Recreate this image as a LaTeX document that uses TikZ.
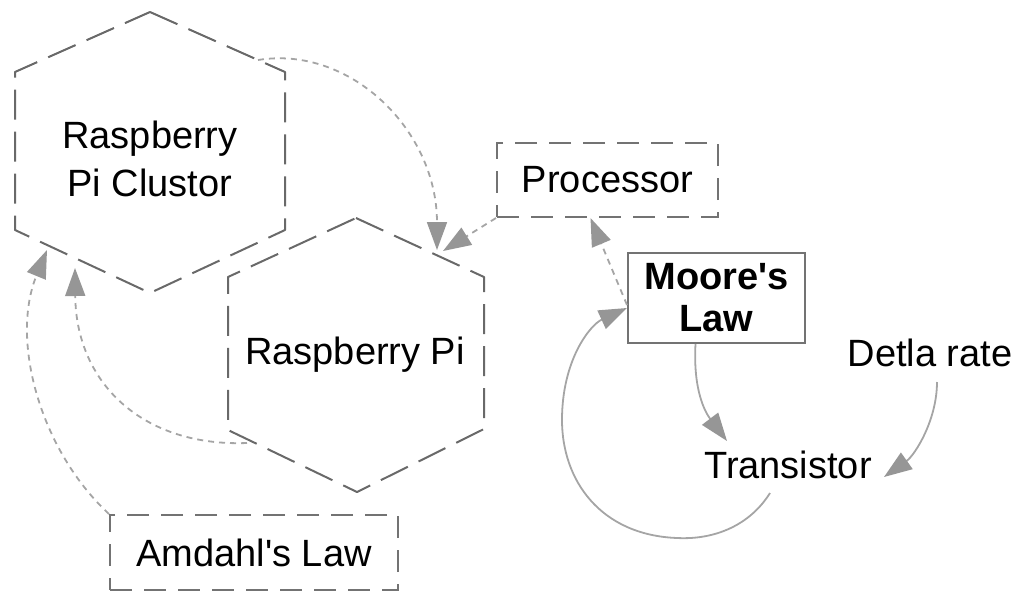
\documentclass[tikz,border=0pt]{standalone}
\usepackage{fontspec}
\newfontfamily\lsans{Liberation Sans}
\usetikzlibrary{arrows.meta}
\definecolor{hexgray}{RGB}{105,105,105}
\definecolor{boxgray}{RGB}{115,115,115}
\definecolor{lngray}{RGB}{165,165,165}
\definecolor{tipgray}{RGB}{150,150,150}
\begin{document}
\begin{tikzpicture}[x=1pt,y=-1pt,
  txt/.style={font=\lsans\fontsize{38}{48}\selectfont, align=center, inner sep=0pt, text=black},
  hexline/.style={draw=hexgray, line width=2pt, dash pattern=on 30pt off 12pt, line join=round},
  dbox/.style={txt, draw=boxgray, line width=2pt, dash pattern=on 22pt off 12pt},
  sbox/.style={txt, draw=boxgray, line width=2pt, font=\lsans\bfseries\fontsize{38}{42}\selectfont},
  tiphead/.style={-{Triangle[length=28pt,width=20pt,color=tipgray,fill=tipgray]}},
  dconn/.style={tiphead, draw=lngray, line width=1.8pt, dash pattern=on 6pt off 5pt},
  sconn/.style={tiphead, draw=lngray, line width=1.8pt}
]
\path[use as bounding box] (0,0) rectangle (1021,595);

% hexagon 1 (Raspberry Pi Clustor)
\coordinate (c1t) at (150,12);
\coordinate (c1ur) at (285,72);
\coordinate (c1lr) at (285,230);
\coordinate (c1b) at (150,293);
\coordinate (c1ll) at (15,230);
\coordinate (c1ul) at (15,72);
\draw[hexline] (c1t) -- (c1ur) -- (c1lr) -- (c1b) -- (c1ll) -- (c1ul) -- cycle;

% hexagon 2 (Raspberry Pi)
\coordinate (c2t) at (356,218);
\coordinate (c2ur) at (484,277);
\coordinate (c2lr) at (484,429);
\coordinate (c2b) at (357,492);
\coordinate (c2ll) at (228,430);
\coordinate (c2ul) at (228,277);
\draw[hexline] (c2t) -- (c2ur) -- (c2lr) -- (c2b) -- (c2ll) -- (c2ul) -- cycle;

% nodes
\node[txt] (clus) at (150,159) {Raspberry\\Pi Clustor};
\node[txt] (rpi) at (355,355) {Raspberry Pi};
\node[dbox, minimum width=221pt, minimum height=74pt] (proc) at (607.5,180) {Processor};
\node[sbox, minimum width=177pt, minimum height=90pt] (moore) at (716.5,298) {Moore's\\Law};
\node[dbox, minimum width=288pt, minimum height=75pt] (amd) at (254,552.5) {Amdahl's Law};
\node[txt] (delta) at (930,353) {Detla rate};
\node[txt] (trans) at (788,465) {Transistor};

% connector end points
\coordinate (c1out) at (258,60);
\coordinate (c2in1) at (437,250);
\coordinate (c2in2) at (443,251);
\coordinate (c2out) at (247,443);
\coordinate (c1in1) at (75,268);
\coordinate (c1in2) at (47,250);
\coordinate (tloop) at (770,493);
\coordinate (tin1) at (727,441);
\coordinate (tin2) at (884,477);
\coordinate (dout) at (937,382);

% connectors
\draw[dconn] (c1out) .. controls (350,45) and (437,130) .. (c2in1);
\draw[dconn] (proc.south west) -- (c2in2);
\draw[dconn] ([yshift=-7pt]moore.west) -- ([xshift=-17pt]proc.south);
\draw[dconn] (c2out) .. controls (145,447) and (76,385) .. (c1in1);
\draw[dconn] (amd.north west) .. controls (40,450) and (10,340) .. (c1in2);
\draw[sconn] (tloop) .. controls (750,525) and (715,540) .. (677,538)
   .. controls (600,535) and (562,480) .. (562,420)
   .. controls (562,360) and (590,325) .. ([yshift=-10pt]moore.west);
\draw[sconn] ([xshift=-21pt]moore.south) .. controls (693,390) and (705,412) .. (tin1);
\draw[sconn] (dout) .. controls (937,420) and (915,455) .. (tin2);
\end{tikzpicture}
\end{document}
